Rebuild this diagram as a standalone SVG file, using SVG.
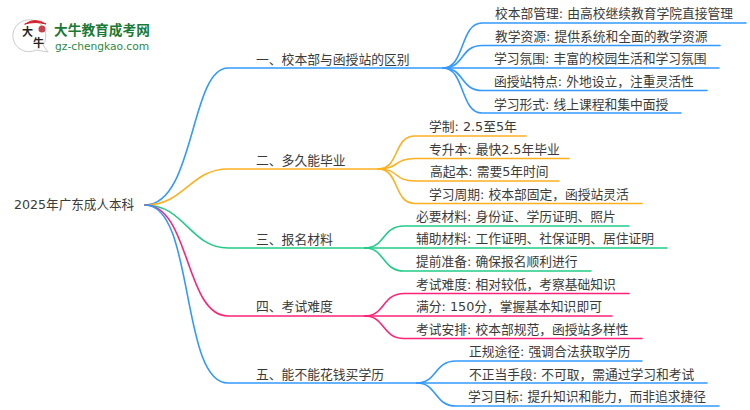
<svg xmlns="http://www.w3.org/2000/svg" width="750" height="410" viewBox="0 0 750 410">
<style>
text{font-family:"DejaVu Sans","Noto Sans CJK SC",sans-serif;fill:#3a3a3a}
.b{font-size:12.800px}.l{font-size:12.770px}.r{font-size:12.600px}
path{fill:none;stroke-width:1.6;stroke-linecap:round}
.c1{stroke:#3399ff}.c2{stroke:#ffb020}.c3{stroke:#22cc88}.c4{stroke:#ff2277}
</style>
<rect width="750" height="410" fill="#fff"/>
<g id="logo">
<path d="M32 20 A16 16 0 1 0 36 50 L48 52 L43 45 A16 16 0 0 0 32 20Z" style="fill:#fff;stroke:#ccc;stroke-width:1"/>
<path d="M25 24 Q35 17 46 24 Q35 21 25 24Z" style="fill:#d8202a;stroke:#d8202a;stroke-width:1"/>
<circle cx="42" cy="29" r="3.500" style="fill:#c8404a"/>
<text x="22" y="36" style="font-size:11px;fill:#222;font-weight:700">大</text>
<text x="33" y="47" style="font-size:11px;fill:#222;font-weight:700">牛</text>
<text x="54" y="35" style="font-size:13.700px;fill:#1a7a35;font-weight:700">大牛教育成考网</text>
<text x="55" y="50" style="font-size:10.700px;fill:#2a8a45">gz-chengkao.com</text>
</g>
<g id="connectors">
<path class="c1" d="M145 205C195 205 190 68 228 68H443"/>
<path class="c2" d="M145 205C185 205 190 169 228 169H378"/>
<path class="c3" d="M145 205C185 205 190 248 228 248H365"/>
<path class="c4" d="M145 205C190 205 185 316 228 316H365"/>
<path class="c1" d="M145 205C195 205 180 383 228 383H417"/>
<path class="c1" d="M443 68C465 68 460 23 482 23H746"/>
<path class="c1" d="M443 68C465 68 460 45.500 482 45.500H720"/>
<path class="c1" d="M443 68H719"/>
<path class="c1" d="M443 68C465 68 460 90.500 482 90.500H707"/>
<path class="c1" d="M443 68C465 68 460 113 482 113H681"/>
<path class="c2" d="M378 169C400 169 393 136 415 136H526"/>
<path class="c2" d="M378 169C400 169 393 158.500 415 158.500H569"/>
<path class="c2" d="M378 169C400 169 393 181 415 181H559"/>
<path class="c2" d="M378 169C400 169 393 203.500 415 203.500H642"/>
<path class="c3" d="M365 248C385 248 382 226 404 226H629"/>
<path class="c3" d="M365 248H667"/>
<path class="c3" d="M365 248C385 248 382 271 404 271H591"/>
<path class="c4" d="M365 316C385 316 382 293.500 404 293.500H629"/>
<path class="c4" d="M365 316H612"/>
<path class="c4" d="M365 316C385 316 382 338.500 404 338.500H642"/>
<path class="c1" d="M417 383C437 383 434 361 456 361H642"/>
<path class="c1" d="M417 383H707"/>
<path class="c1" d="M417 383C437 383 434 406 456 406H719"/>
</g>
<g id="root"><text class="r" x="14" y="209">2025年广东成人本科</text></g>
<g id="b1"><text class="b" x="256" y="64">一、校本部与函授站的区别</text></g>
<g id="b2"><text class="b" x="256" y="165">二、多久能毕业</text></g>
<g id="b3"><text class="b" x="256" y="244">三、报名材料</text></g>
<g id="b4"><text class="b" x="256" y="311">四、考试难度</text></g>
<g id="b5"><text class="b" x="256" y="379">五、能不能花钱买学历</text></g>
<g id="n11"><text class="l" x="495" y="18">校本部管理: 由高校继续教育学院直接管理</text></g>
<g id="n12"><text class="l" x="495" y="41">教学资源: 提供系统和全面的教学资源</text></g>
<g id="n13"><text class="l" x="494" y="63">学习氛围: 丰富的校园生活和学习氛围</text></g>
<g id="n14"><text class="l" x="494" y="86">函授站特点: 外地设立，注重灵活性</text></g>
<g id="n15"><text class="l" x="494" y="109">学习形式: 线上课程和集中面授</text></g>
<g id="n21"><text class="l" x="429" y="131">学制: 2.5至5年</text></g>
<g id="n22"><text class="l" x="429" y="154">专升本: 最快2.5年毕业</text></g>
<g id="n23"><text class="l" x="430" y="176">高起本: 需要5年时间</text></g>
<g id="n24"><text class="l" x="429" y="199">学习周期: 校本部固定，函授站灵活</text></g>
<g id="n31"><text class="l" x="416" y="221">必要材料: 身份证、学历证明、照片</text></g>
<g id="n32"><text class="l" x="416" y="243">辅助材料: 工作证明、社保证明、居住证明</text></g>
<g id="n33"><text class="l" x="416" y="266">提前准备: 确保报名顺利进行</text></g>
<g id="n41"><text class="l" x="416" y="289">考试难度: 相对较低，考察基础知识</text></g>
<g id="n42"><text class="l" x="416" y="311">满分: 150分，掌握基本知识即可</text></g>
<g id="n43"><text class="l" x="416" y="334">考试安排: 校本部规范，函授站多样性</text></g>
<g id="n51"><text class="l" x="469" y="356">正规途径: 强调合法获取学历</text></g>
<g id="n52"><text class="l" x="469" y="379">不正当手段: 不可取，需通过学习和考试</text></g>
<g id="n53"><text class="l" x="468" y="401">学习目标: 提升知识和能力，而非追求捷径</text></g>
</svg>
